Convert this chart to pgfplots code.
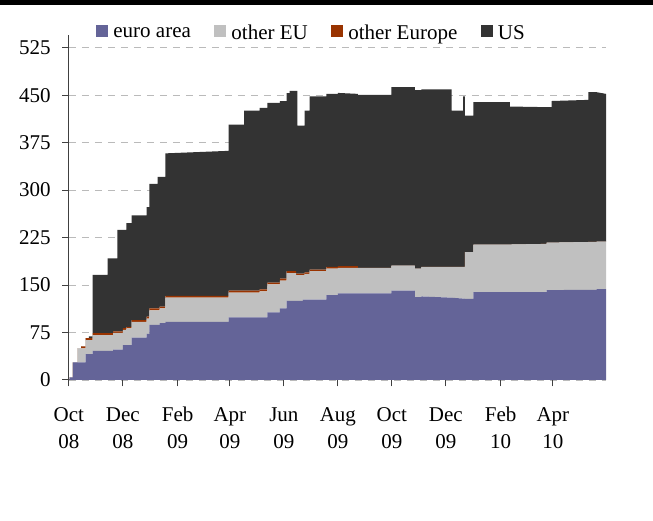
\documentclass[border=0pt]{standalone}
\usepackage{fontspec}
\setmainfont{Liberation Serif}
\usepackage{pgfplots}
\usepackage{pgfplotstable}
\pgfplotsset{compat=1.18}
\definecolor{cEuro}{RGB}{100,100,152}
\definecolor{cOEU}{RGB}{192,192,192}
\definecolor{cOEur}{RGB}{153,51,0}
\definecolor{cUS}{RGB}{51,51,51}
\newcommand\xl[2]{\rule{0pt}{15pt}#1\\#2}
\pgfplotstableread{
day euro oeu oeur us
0 0 0 0 0
1 0 0 0 0
1 4 0 0 0
4.5 4 0 0 0
4.5 28 0 0 0
10 28 0 0 0
10 28 22 0 0
14 28 22 0 0
14 28 22 3 0
19 28 22 3 0
19 41 22 3 0
22.6 41 22 3 0
22.6 41 22 3 3
27 41 22 3 3
27 46 25 3 92
44 46 25 3 92
44 46 25 3 118
50 46 25 3 118
50 48 26.5 2.5 115
55 48 26.5 2.5 115
55 48 26.5 2.5 160
61 48 26.5 2.5 160
61 55 24 3 155
65 55 24 3 155
65 55 26.5 2.5 164
71 55 26.5 2.5 164
71 67 25 2.5 165.5
88 67 25 2.5 165.5
88 73 24 3 173
91 73 24 3 173
91 87 23 3 197
100.5 87 23 3 197
100.5 87 23 3 208
102.5 87 23 3 208
102.5 90 23 3 205
109 90 23 3 205
109 92 38 3 225
180.5 92 38 3 229
180.5 99 39 3 262.6
198 99 39 3 262.6
198 99 39 3 284.7
215.5 99 39 3 284.7
215.5 99 41 3 287
224.5 99 41 3 287
224.5 107 44 3 283.6
238.5 107 44 3 283.6
238.5 113 44 3 280.7
246 113 44 3 280.7
246 125 44 3 281
249.5 125 44 3 281
249.5 125 44 3 284.6
257 125 44 3 284.6
257 125 40.5 2.5 288.6
258.3 125 40.5 2.5 288.6
258.3 125 40.5 2.5 234
264.5 125 40.5 2.5 234
264.5 127 38.5 2.5 234
266.5 127 38.5 2.5 234
266.5 127 40.5 2.5 255.7
272 127 40.5 2.5 255.7
272 127 45 2.5 273.5
291 127 45 2.5 273.5
291 134 42 2.6 273.4
304 134 42 2.6 273.4
304 137 40 3 273.5
326.5 137 40 3 272
326.5 137 40 0 273.5
364.5 137 40 0 273.5
364.5 141 39.6 0 282
391 141 39.6 0 282
391 131 45 0 282
398.5 131 45 0 282
398.5 132 46.6 0 280.4
432.5 130 48.6 0 280.4
432.5 130 48.6 0 247.1
445.5 128.6 50 0 247.1
445.5 128.6 50 0 269.4
447.5 128.6 50 0 269.4
447.5 128 74 0 215.8
457 128 74 0 215.8
457 139 75 0 225
498.5 139 75 0 225
498.5 139 75 0 218
540 139 76 0 216
540 142 75 0 214
545.5 142 75 0 214
545.5 142 75 0 223.7
587 142.5 75.5 0 224.5
587 142.5 75.5 0 236.6
596.5 142.5 75.5 0 236.6
596.5 143.6 75 0 236
607 143.6 75 0 233.4
}\data
\begin{document}
\fontsize{21}{27.3}\selectfont
\begin{tikzpicture}
\useasboundingbox (-68.8pt,-141pt) rectangle (584.2pt,380pt);
\draw[line width=5pt] (-68.8pt,377.5pt) -- (584.2pt,377.5pt);
\begin{axis}[
  at={(0pt,0pt)}, anchor=south west,
  scale only axis, width=537.2pt, height=345pt,
  xmin=0, xmax=607, ymin=0, ymax=545,
  stack plots=y,
  axis x line*=bottom, axis y line*=left,
  axis line style={black!75, line width=1pt},
  ytick={0,75,...,525},
  xtick={0,61,123,182,243,304,365,426,488,547},
  xticklabels={{\xl{Oct}{08}},{\xl{Dec}{08}},{\xl{Feb}{09}},{\xl{Apr}{09}},{\xl{Jun}{09}},{\xl{Aug}{09}},{\xl{Oct}{09}},{\xl{Dec}{09}},{\xl{Feb}{10}},{\xl{Apr}{10}}},
  /pgf/number format/assume math mode=true,
  tick align=outside, major tick length=6.5pt,
  tick style={black!75, line width=1pt},
  ymajorgrids,
  grid style={dash pattern=on 7pt off 6pt, black!27, line width=0.9pt},
  xticklabel style={align=center, font=\fontsize{21}{27.3}\selectfont, anchor=north, inner sep=0pt, yshift=-20pt},
  yticklabel style={font=\fontsize{21}{25}\selectfont, anchor=east, inner sep=0pt, xshift=-11.5pt},
  legend style={draw=none, fill=none, at={(0.051,1.004)}, anchor=west,
    legend columns=4, inner sep=0pt, font=\fontsize{21}{25}\selectfont,
    nodes={inner sep=0pt},
    /tikz/every odd column/.append style={column sep=5pt},
    /tikz/every even column/.append style={column sep=23.5pt}},
  legend image code/.code={\fill[#1] (0pt,-3pt) rectangle (12pt,9pt);},
]
\addplot[fill=cEuro, draw=none] table[x=day, y=euro]{\data} \closedcycle;
\addplot[fill=cOEU, draw=none] table[x=day, y=oeu]{\data} \closedcycle;
\addplot[fill=cOEur, draw=none] table[x=day, y=oeur]{\data} \closedcycle;
\addplot[fill=cUS, draw=none] table[x=day, y=us]{\data} \closedcycle;
\legend{euro area, other EU, other Europe, US}
\end{axis}
\end{tikzpicture}
\end{document}
